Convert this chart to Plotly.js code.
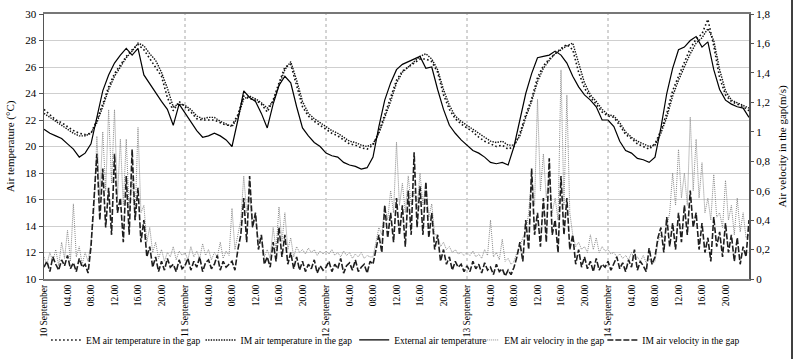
<!DOCTYPE html>
<html>
<head>
<meta charset="utf-8">
<script src="https://cdn.plot.ly/plotly-3.0.1.min.js"></script>
<style>html,body{margin:0;padding:0;background:#fff}#chart{width:800px;height:359px}</style>
</head>
<body>
<div id="chart"></div>
<script>
// Day labels and intra-day tick labels (every 4 hours)
const dayLabels = ['10 September','11 September','12 September','13 September','14 September'];
const hourLabels = ['04.00','08.00','12.00','16.00','20.00'];

// Hourly temperatures (°C), 10 Sep 00:00 .. 15 Sep 00:00
const extTemp = [21.3,21.0,20.8,20.6,20.2,19.8,19.2,19.5,20.2,22.2,24.2,25.4,26.3,26.9,27.4,26.9,27.4,25.4,24.7,24.0,23.4,22.8,21.6,23.2,
22.5,21.8,21.2,20.7,20.8,21.0,20.8,20.5,20.0,22.0,24.2,23.7,23.4,22.5,21.4,23.2,24.6,25.3,24.8,23.0,21.4,20.8,20.3,20.0,
19.5,19.3,19.2,18.8,18.6,18.5,18.3,18.4,19.2,21.5,23.5,24.8,25.8,26.2,26.4,26.6,26.8,25.9,26.0,24.3,22.8,21.6,21.0,20.5,
20.1,19.7,19.5,19.2,18.8,18.7,18.8,18.6,20.0,22.0,24.0,25.5,26.7,26.8,26.9,27.2,26.9,26.3,25.3,24.5,23.9,23.5,23.0,22.0,
22.0,21.5,20.4,19.7,19.5,19.1,19.0,18.8,19.2,21.4,24.0,25.9,27.3,27.5,28.0,28.3,27.5,27.9,25.8,24.3,23.5,23.2,23.0,22.9,22.2];

const emTemp = [22.8,22.4,22.0,21.8,21.5,21.2,21.0,20.9,21.0,22.0,23.2,24.5,25.5,26.2,26.8,27.3,27.7,27.3,26.6,25.9,25.3,23.7,22.7,23.4,
23.0,22.6,22.1,22.0,22.0,22.0,21.8,21.6,21.6,22.4,23.8,23.6,23.5,23.2,22.6,23.5,24.8,26.0,26.2,24.6,23.0,22.3,21.9,21.6,
21.3,21.0,20.8,20.5,20.2,20.1,19.9,19.8,20.1,21.1,22.4,23.6,25.0,25.7,26.0,26.3,26.6,26.6,26.4,25.6,23.9,22.8,22.1,21.7,
21.4,21.1,20.7,20.4,20.2,20.0,20.1,19.8,20.0,21.0,22.4,23.6,25.2,26.1,26.6,27.0,27.4,27.7,27.3,25.6,24.4,23.7,23.2,22.6,
22.3,22.2,21.6,20.9,20.6,20.2,20.0,19.8,20.2,21.2,22.5,24.2,25.3,26.4,27.4,28.1,28.5,29.6,27.6,25.2,23.9,23.4,23.2,23.0,22.7];

const imTemp = [22.5,22.2,21.9,21.6,21.3,21.0,20.8,20.8,21.0,21.8,23.0,24.3,25.3,26.0,26.7,27.2,27.8,27.6,27.0,26.5,25.6,24.4,23.0,23.2,
23.1,22.8,22.3,22.1,22.2,22.2,21.9,21.7,21.5,22.2,23.6,23.8,23.6,23.3,22.9,23.4,24.6,25.8,26.4,25.0,23.4,22.5,22.1,21.8,
21.5,21.2,21.0,20.7,20.4,20.3,20.1,20.0,20.2,21.0,22.2,23.4,24.8,25.6,26.0,26.4,26.8,27.0,26.6,25.8,24.3,23.1,22.3,21.9,
21.6,21.3,21.0,20.7,20.4,20.3,20.4,20.1,20.1,20.8,22.2,23.4,24.9,25.9,26.5,27.0,27.3,27.6,27.8,26.3,24.8,23.9,23.4,22.8,
22.4,22.3,21.8,21.1,20.7,20.4,20.2,20.0,20.1,21.0,22.2,23.8,25.0,26.0,27.0,27.8,28.2,28.9,28.0,25.8,24.2,23.5,23.3,23.1,22.9];

// Half-hourly air velocity in the gap (m/s)
const emVel = [
0.15,0.10,0.18,0.12,0.20,0.09,0.25,0.14,0.33,0.12,0.51,0.15,0.22,0.10,0.18,0.12,
0.25,0.45,0.97,0.55,1.00,0.60,1.15,0.65,1.15,0.55,0.95,0.50,0.95,0.45,0.70,0.40,1.03,0.45,0.50,0.25,0.35,0.18,0.25,0.14,
0.20,0.12,0.18,0.15,0.22,0.13,0.19,0.16,
0.18,0.13,0.22,0.15,0.19,0.14,0.24,0.16,0.20,0.13,0.18,0.15,0.25,0.14,0.19,0.16,
0.48,0.20,0.30,0.40,0.70,0.45,0.55,0.35,0.45,0.25,0.30,0.15,0.20,0.14,0.35,0.20,0.49,0.25,0.45,0.20,0.28,0.15,0.22,0.18,
0.20,0.17,0.21,0.18,0.20,0.16,0.19,0.17,
0.19,0.17,0.20,0.16,0.18,0.15,0.19,0.16,0.18,0.14,0.17,0.15,0.18,0.14,0.16,0.15,
0.15,0.25,0.35,0.30,0.50,0.40,0.60,0.45,0.93,0.50,0.65,0.45,0.70,0.50,0.60,0.48,0.72,0.50,0.65,0.42,0.51,0.30,0.30,0.22,
0.25,0.20,0.22,0.18,0.20,0.17,0.18,0.16,
0.18,0.16,0.19,0.15,0.17,0.14,0.20,0.16,0.40,0.15,0.18,0.13,0.27,0.12,0.14,0.10,
0.12,0.18,0.22,0.28,0.32,0.45,0.70,0.50,1.22,0.60,0.85,0.55,0.70,0.45,0.55,0.40,1.42,0.50,1.25,0.45,0.30,0.22,0.25,0.20,
0.22,0.18,0.30,0.20,0.28,0.18,0.22,0.19,
0.20,0.17,0.18,0.15,0.17,0.14,0.16,0.13,0.18,0.14,0.15,0.12,0.16,0.11,0.14,0.10,
0.12,0.25,0.30,0.28,0.35,0.45,0.72,0.50,0.88,0.55,0.72,0.50,1.10,0.60,0.95,0.55,0.79,0.45,0.55,0.40,0.71,0.42,0.45,0.35,
0.67,0.40,0.50,0.30,0.55,0.32,0.45,0.28,
0.30];

const imVel = [
0.08,0.12,0.05,0.15,0.10,0.06,0.13,0.09,0.16,0.07,0.11,0.05,0.14,0.08,0.10,0.04,
0.22,0.55,0.85,0.40,0.75,0.35,0.62,0.30,0.85,0.45,0.55,0.25,0.70,0.30,0.88,0.40,0.62,0.25,0.40,0.15,0.22,0.08,0.15,0.05,
0.12,0.06,0.14,0.08,0.10,0.05,0.13,0.07,
0.09,0.14,0.06,0.12,0.08,0.15,0.05,0.11,0.13,0.07,0.10,0.16,0.06,0.12,0.08,0.10,
0.12,0.06,0.20,0.30,0.55,0.25,0.70,0.35,0.45,0.20,0.30,0.10,0.15,0.08,0.25,0.12,0.35,0.15,0.30,0.10,0.18,0.07,0.15,0.06,
0.12,0.05,0.10,0.07,0.13,0.04,0.09,0.06,
0.08,0.12,0.05,0.10,0.07,0.14,0.04,0.09,0.11,0.06,0.13,0.05,0.08,0.10,0.04,0.12,
0.10,0.20,0.30,0.18,0.50,0.28,0.45,0.25,0.55,0.30,0.50,0.22,0.60,0.30,0.86,0.35,0.63,0.30,0.66,0.28,0.45,0.20,0.30,0.12,
0.20,0.10,0.15,0.06,0.12,0.08,0.10,0.05,
0.09,0.05,0.12,0.07,0.10,0.04,0.11,0.06,0.08,0.03,0.10,0.05,0.07,0.02,0.06,0.03,
0.08,0.15,0.25,0.12,0.40,0.20,0.75,0.30,0.45,0.22,0.55,0.25,0.82,0.30,0.40,0.18,0.70,0.30,0.55,0.20,0.30,0.10,0.20,0.08,
0.15,0.07,0.12,0.05,0.14,0.06,0.10,0.08,
0.12,0.06,0.10,0.15,0.07,0.11,0.05,0.13,0.08,0.20,0.06,0.12,0.09,0.05,0.21,0.10,
0.15,0.28,0.35,0.18,0.42,0.22,0.38,0.20,0.45,0.25,0.50,0.30,0.60,0.35,0.45,0.20,0.38,0.18,0.28,0.12,0.42,0.22,0.32,0.15,
0.38,0.18,0.30,0.12,0.28,0.10,0.22,0.15,
0.40];

const legendNames = ['EM air temperature in the gap','IM air temperature in the gap','External air temperature','EM air velociry in the gap','IM air velocity in the gap'];

const hoursPerDay = 24;
const tempX = extTemp.map((_, i) => i);
const velX = emVel.map((_, i) => i * (tempX.length - 1) / (emVel.length - 1));

const tickVals = [], tickText = [];
dayLabels.forEach((d, di) => {
  tickVals.push(di * hoursPerDay); tickText.push(d);
  hourLabels.forEach((h, hi) => { tickVals.push(di * hoursPerDay + (hi + 1) * 4); tickText.push(h); });
});
const totalHours = dayLabels.length * hoursPerDay;

const legendIds = ['legend', 'legend2', 'legend3', 'legend4', 'legend5'];
const traces = [
  {x: tempX, y: emTemp, name: legendNames[0], legend: legendIds[0], mode: 'lines', line: {color: '#111', width: 1.6, dash: '1.6px,2.4px'}},
  {x: tempX, y: imTemp, name: legendNames[1], legend: legendIds[1], mode: 'lines', line: {color: '#111', width: 1.4, dash: '1.4px,1.2px'}},
  {x: tempX, y: extTemp, name: legendNames[2], legend: legendIds[2], mode: 'lines', line: {color: '#000', width: 1.2}},
  {x: velX, y: emVel, name: legendNames[3], legend: legendIds[3], mode: 'lines', yaxis: 'y2', line: {color: '#8a8a8a', width: 1, dash: '1px,1px'}},
  {x: velX, y: imVel, name: legendNames[4], legend: legendIds[4], mode: 'lines', yaxis: 'y2', line: {color: '#1e1e1e', width: 1.6, dash: '6px,2px'}}
];

const dayLines = dayLabels.slice(1).map((_, i) => ({
  type: 'line', xref: 'x', yref: 'paper', x0: (i + 1) * hoursPerDay, x1: (i + 1) * hoursPerDay, y0: 0, y1: 1,
  line: {color: '#a8a8a8', width: 1, dash: 'dot'}, layer: 'below'
}));
dayLines.push({type: 'line', xref: 'paper', yref: 'paper', x0: 1.061, x1: 1.061, y0: -0.31, y1: 1.06, line: {color: '#000', width: 1.5}});

const serif = 'Liberation Serif, Times New Roman, serif';
const legendX = [0.003, 0.222, 0.44, 0.596, 0.792];
const layout = {
  width: 800, height: 359,
  margin: {l: 44, r: 51, t: 14, b: 80, autoexpand: false},
  paper_bgcolor: '#fff', plot_bgcolor: '#fff',
  separators: ',.',
  font: {family: serif, color: '#000', size: 11},
  showlegend: true,
  xaxis: {range: [0, totalHours], tickmode: 'array', tickvals: tickVals, ticktext: tickText,
    tickangle: -90, tickfont: {family: serif, size: 9.5}, showgrid: false, zeroline: false,
    showline: true, linecolor: '#777', linewidth: 2, mirror: true, ticks: '', automargin: false},
  yaxis: {range: [10, 30], dtick: 2, tick0: 10, showgrid: true, gridcolor: '#cfcfcf', gridwidth: 1,
    zeroline: false, showline: true, linecolor: '#555', linewidth: 1.5, mirror: true,
    ticks: 'outside', ticklen: 4, tickcolor: '#555', tickfont: {family: serif, size: 11},
    title: {text: 'Air temperature (°C)', font: {family: serif, size: 11}, standoff: 8}, automargin: false},
  yaxis2: {range: [0, 1.8], dtick: 0.2, tick0: 0, overlaying: 'y', side: 'right', showgrid: false,
    zeroline: false, showline: false, ticks: 'outside', ticklen: 4, tickcolor: '#555',
    tickfont: {family: serif, size: 11},
    title: {text: 'Air velocity in the gap(m/s)', font: {family: serif, size: 11}, standoff: 8}, automargin: false},
  shapes: dayLines
};
legendIds.forEach((id, i) => {
  layout[id] = {orientation: 'h', x: legendX[i], xanchor: 'left', y: -0.23, yanchor: 'middle',
    bgcolor: 'rgba(0,0,0,0)', borderwidth: 0, font: {family: serif, size: 9.5}, itemwidth: 30};
});

Plotly.newPlot('chart', traces, layout, {displayModeBar: false, staticPlot: true});
</script>
</body>
</html>
